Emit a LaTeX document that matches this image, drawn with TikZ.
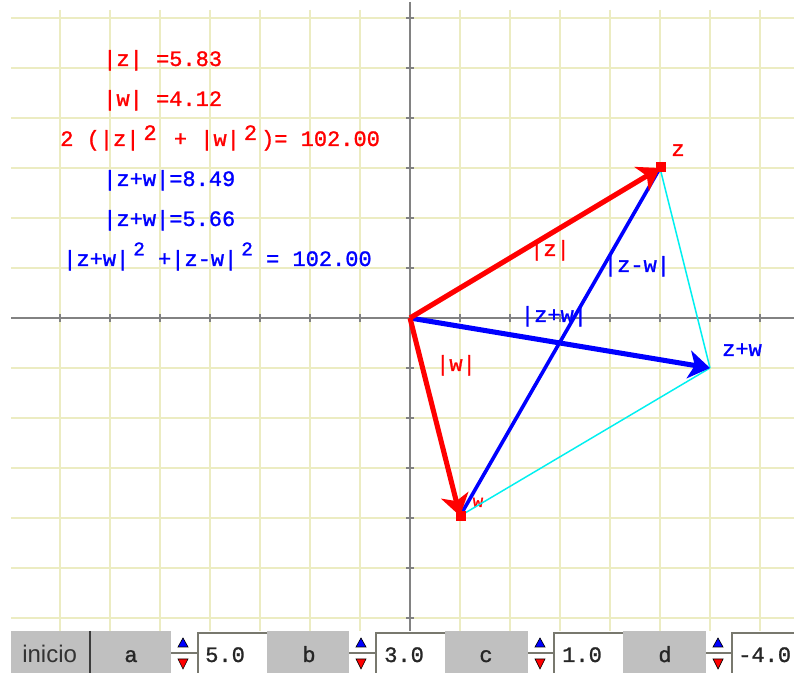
\documentclass[tikz,border=0pt]{standalone}
\usepackage{fontspec}
\newfontfamily\monof[FakeBold=1.2]{Liberation Mono}
\newfontfamily\sansf{Liberation Sans}
\usetikzlibrary{arrows.meta}
\definecolor{gridc}{RGB}{236,236,194}
\definecolor{axisc}{RGB}{130,130,130}
\definecolor{barg}{RGB}{192,192,192}
\definecolor{myred}{RGB}{255,0,0}
\definecolor{myblue}{RGB}{0,0,255}
\definecolor{mycyan}{RGB}{0,240,240}
\definecolor{darkedge}{RGB}{60,60,60}
\definecolor{fieldedge}{RGB}{120,120,110}
\begin{document}
\begin{tikzpicture}[x=0.75pt,y=-0.75pt,
  gridline/.style={draw=gridc,line width=1.5pt},
  axisline/.style={draw=axisc,line width=1.5pt},
  tickline/.style={draw=axisc,line width=1.2pt},
  mtxt/.style={font=\monof\fontsize{16.5}{18}\selectfont,inner sep=0pt},
  redtxt/.style={mtxt,text=myred},
  bluetxt/.style={mtxt,text=myblue},
  bartxt/.style={mtxt,text=black!85},
  redarrow/.style={draw=myred,line width=3.8pt,-{Stealth[length=16pt,width=21pt,inset=4.5pt]}},
  bluearrow/.style={draw=myblue,line width=3.8pt,-{Stealth[length=16pt,width=21pt,inset=4.5pt]}},
  blueline/.style={draw=myblue,line width=2.7pt},
  cyanline/.style={draw=mycyan,line width=1.1pt},
  dot/.style={fill=myred,draw=none,minimum size=7pt,inner sep=0pt,rectangle},
  fieldborder/.style={draw=fieldedge,line width=2pt},
  spinline/.style={draw=fieldedge,line width=1.5pt},
  uptri/.style={fill=myblue,draw=black,line width=0.5pt},
  downtri/.style={fill=myred,draw=black,line width=0.5pt}]
\useasboundingbox (0,0) rectangle (794,673);
\fill[white] (0,0) rectangle (794,673);
% grid
\foreach \x in {60,110,...,760} \draw[gridline] (\x,10) -- (\x,631);
\foreach \y in {18,68,...,618} \draw[gridline] (11,\y) -- (794,\y);
% axes
\draw[axisline] (11,318) -- (794,318);
\draw[axisline] (410,2) -- (410,631);
\foreach \x in {60,110,...,760} \draw[tickline] (\x,314) -- (\x,322);
\foreach \y in {18,68,...,618} \draw[tickline] (406,\y) -- (414,\y);
% text block
\node[redtxt,anchor=base west] (t1) at (103,66) {|z| =5.83};
\node[redtxt,anchor=base west] (t2) at (103,106) {|w| =4.12};
\node[redtxt,anchor=base west] (t3) at (60,146) {2 (|z|\hspace{3pt}\raisebox{4.5pt}{2}\hspace{3pt} + |w|\hspace{3pt}\raisebox{4.5pt}{2}\hspace{3pt})= 102.00};
\node[bluetxt,anchor=base west] (t4) at (103,186) {|z+w|=8.49};
\node[bluetxt,anchor=base west] (t5) at (103,226) {|z+w|=5.66};
\node[bluetxt,anchor=base west] (t6) at (63,266) {|z+w|\hspace{3pt}\raisebox{8pt}{\fontsize{14.5}{16}\selectfont 2} +|z-w|\hspace{3pt}\raisebox{8pt}{\fontsize{14.5}{16}\selectfont 2} = 102.00};
% points
\coordinate (O) at (410,318);
\coordinate (Z) at (660,168);
\coordinate (W) at (460,516);
\coordinate (ZW) at (710,368);
% vector labels
\node[redtxt,anchor=base] (lz) at (550,256) {|z|};
\node[bluetxt,anchor=base] (lzmw) at (637,272) {|z-w|};
\node[bluetxt,anchor=base] (lzpw) at (554,322) {|z+w|};
\node[redtxt,anchor=base] (lw) at (456,371) {|w|};
\node[bluetxt,anchor=base] (lzw) at (742,356) {z+w};
\node[redtxt,anchor=base] (nz) at (678,156) {z};
\node[redtxt,anchor=base,font=\monof\fontsize{13}{14}\selectfont] (nw) at (478,507) {w};
% lines and arrows
\draw[cyanline] (Z) -- (ZW);
\draw[cyanline] (W) -- (ZW);
\draw[blueline] (W) -- (Z);
\draw[bluearrow] (O) -- (ZW);
\draw[redarrow] (O) -- (Z);
\draw[redarrow] (O) -- (W);
\node[dot] (dz) at (661,167) {};
\node[dot] (dw) at (461,516) {};
% bottom bar
\fill[barg] (11,631) rectangle (794,673);
\draw[darkedge,line width=1.8pt] (90,631) -- (90,673);
\node[font=\sansf\fontsize{18}{20}\selectfont,text=black!80,anchor=base west,inner sep=0pt] (ini) at (22,663) {inicio};
% spinners and fields
\foreach \s/\f/\fe in {171/197/267,349/375/445,528/553/623,706/731/794}{
  \fill[white] (\s,631) rectangle (\f,673);
  \draw[spinline] (\s,653) -- (\f,653);
  \fill[white] (\f,631) rectangle (\fe,673);
  \draw[fieldborder] (\f+1,673) -- (\f+1,633) -- (\fe,633);
  \filldraw[uptri] (\s+7,647) -- (\s+17,647) -- (\s+12,638) -- cycle;
  \filldraw[downtri] (\s+7,659) -- (\s+17,659) -- (\s+12,669) -- cycle;
}
\node[bartxt,anchor=base] (la) at (131,662) {a};
\node[bartxt,anchor=base] (lb) at (309,662) {b};
\node[bartxt,anchor=base] (lc) at (486,662) {c};
\node[bartxt,anchor=base] (ld) at (665,662) {d};
\node[bartxt,anchor=base west] (va) at (205,662) {5.0};
\node[bartxt,anchor=base west] (vb) at (384,662) {3.0};
\node[bartxt,anchor=base west] (vc) at (562,662) {1.0};
\node[bartxt,anchor=base west] (vd) at (738,662) {-4.0};
\end{tikzpicture}
\end{document}
